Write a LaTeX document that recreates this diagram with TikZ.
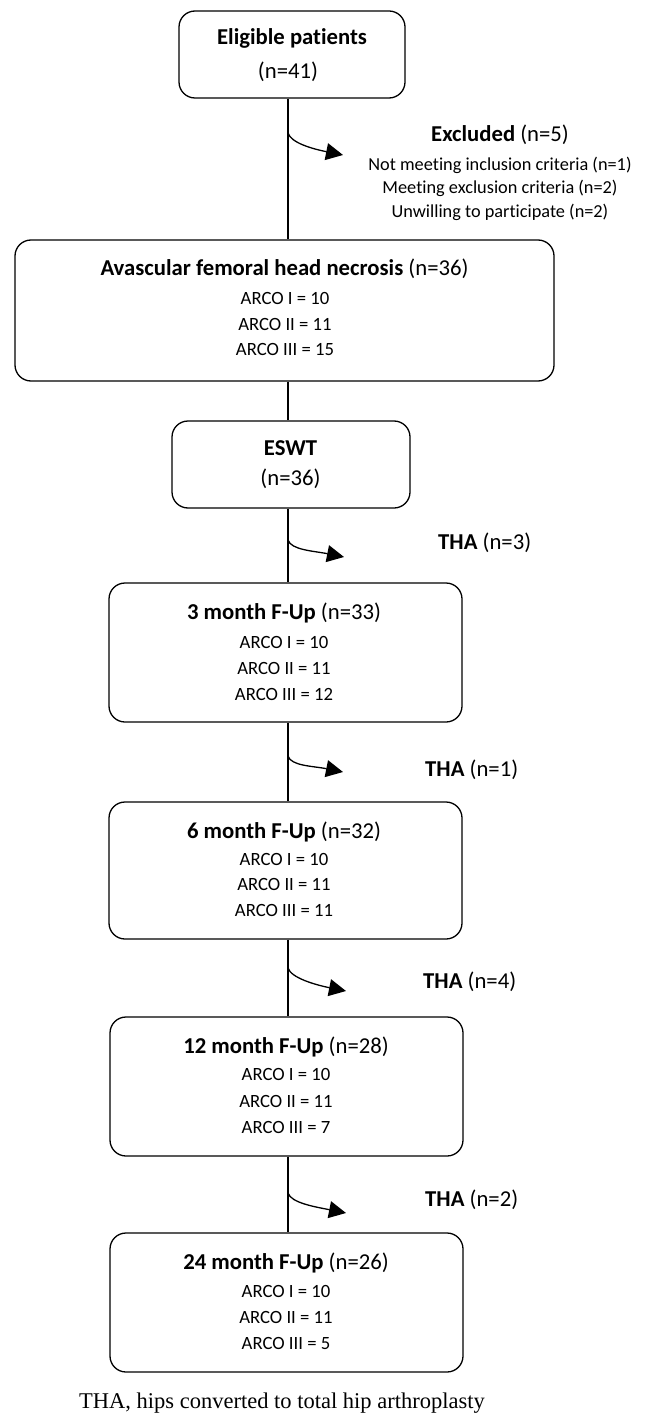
\documentclass[tikz,border=0pt]{standalone}
\usepackage{fontspec}
\setmainfont{Carlito}[Ligatures=NoCommon]
\newfontfamily\capfont{Liberation Serif}
\usetikzlibrary{arrows.meta,calc}
\begin{document}
\begin{tikzpicture}[x=1pt,y=-1pt,
  box/.style={draw,line width=1.3pt,rounded corners=16pt,inner sep=0pt},
  ttl/.style={font=\fontsize{22.7}{25}\selectfont,inner sep=0pt},
  body/.style={font=\fontsize{18.7}{21}\selectfont,inner sep=0pt},
  side/.style={font=\fontsize{18.3}{21}\selectfont,inner sep=0pt},
  conn/.style={line width=1.3pt},
  arr/.style={line width=1.3pt,-{Triangle[length=17pt,width=17pt]}},
  capt/.style={font=\capfont\fontsize{22.5}{26}\selectfont,inner sep=0pt}]
\useasboundingbox[fill=white] (0,0) rectangle (648,1415);

% boxes
\node[box,minimum width=226pt,minimum height=87pt] (b1) at (292,54.5) {};
\node[box,minimum width=539pt,minimum height=141pt] (b2) at (284.5,310.5) {};
\node[box,minimum width=238pt,minimum height=87pt] (b3) at (291,464.5) {};
\node[box,minimum width=353pt,minimum height=139pt] (b4) at (285.5,652.5) {};
\node[box,minimum width=353pt,minimum height=137pt] (b5) at (285.5,870.5) {};
\node[box,minimum width=353pt,minimum height=139pt] (b6) at (286.5,1086.5) {};
\node[box,minimum width=353pt,minimum height=139pt] (b7) at (286.5,1302.5) {};

% box texts
\node[ttl] (t1a) at (292,38) {\textbf{Eligible patients}};
\node[ttl] (t1b) at (288,72) {(n=41)};

\node[ttl] (t2a) at (284.5,269) {\textbf{Avascular femoral head necrosis} (n=36)};
\node[body] (t2b) at (285,298) {ARCO I = 10};
\node[body] (t2c) at (285,324) {ARCO II = 11};
\node[body] (t2d) at (285,349) {ARCO III = 15};

\node[ttl] (t3a) at (290.5,448) {\textbf{ESWT}};
\node[ttl] (t3b) at (290.5,479) {(n=36)};

\node[ttl] (t4a) at (284,613) {\textbf{3 month F-Up} (n=33)};
\node[body] (t4b) at (284,642) {ARCO I = 10};
\node[body] (t4c) at (284,668) {ARCO II = 11};
\node[body] (t4d) at (284,694) {ARCO III = 12};

\node[ttl] (t5a) at (284,832) {\textbf{6 month F-Up} (n=32)};
\node[body] (t5b) at (284,859) {ARCO I = 10};
\node[body] (t5c) at (284,884) {ARCO II = 11};
\node[body] (t5d) at (284,910) {ARCO III = 11};

\node[ttl] (t6a) at (286,1047) {\textbf{12 month F-Up} (n=28)};
\node[body] (t6b) at (286,1074) {ARCO I = 10};
\node[body] (t6c) at (286,1101) {ARCO II = 11};
\node[body] (t6d) at (286,1127) {ARCO III = 7};

\node[ttl] (t7a) at (286,1263) {\textbf{24 month F-Up} (n=26)};
\node[body] (t7b) at (286,1291) {ARCO I = 10};
\node[body] (t7c) at (286,1317) {ARCO II = 11};
\node[body] (t7d) at (286,1343) {ARCO III = 5};

% side texts
\node[ttl] (ex0) at (500,135) {\textbf{Excluded} (n=5)};
\node[side] (ex1) at (500,165) {Not meeting inclusion criteria (n=1)};
\node[side] (ex2) at (500,188) {Meeting exclusion criteria (n=2)};
\node[side] (ex3) at (500,212) {Unwilling to participate (n=2)};

\node[ttl,anchor=west] (th1) at (438,543) {\textbf{THA} (n=3)};
\node[ttl,anchor=west] (th2) at (425,770) {\textbf{THA} (n=1)};
\node[ttl,anchor=west] (th3) at (423,982) {\textbf{THA} (n=4)};
\node[ttl,anchor=west] (th4) at (425,1200) {\textbf{THA} (n=2)};

\node[capt] (cap) at (282,1403) {THA, hips converted to total hip arthroplasty};

% main vertical line
\coordinate (lx) at (288,0);
\draw[conn] (b1.south -| lx) -- (b2.north -| lx);
\draw[conn] (b2.south -| lx) -- (b3.north -| lx);
\draw[conn] (b3.south -| lx) -- (b4.north -| lx);
\draw[conn] (b4.south -| lx) -- (b5.north -| lx);
\draw[conn] (b5.south -| lx) -- (b6.north -| lx);
\draw[conn] (b6.south -| lx) -- (b7.north -| lx);

% side arrows
\coordinate (s1) at (288,133); \coordinate (e1) at (343,155);
\coordinate (s2) at (288,540); \coordinate (e2) at (344,557);
\coordinate (s3) at (288,756); \coordinate (e3) at (343,772);
\coordinate (s4) at (288,968); \coordinate (e4) at (346,991);
\coordinate (s5) at (288,1193); \coordinate (e5) at (346,1213);
\foreach \i in {1,...,5}{
  \draw[arr] (s\i) .. controls ($(s\i)+(3,10)$) and ($(e\i)+(-30,-6)$) .. (e\i);
}
\end{tikzpicture}
\end{document}
